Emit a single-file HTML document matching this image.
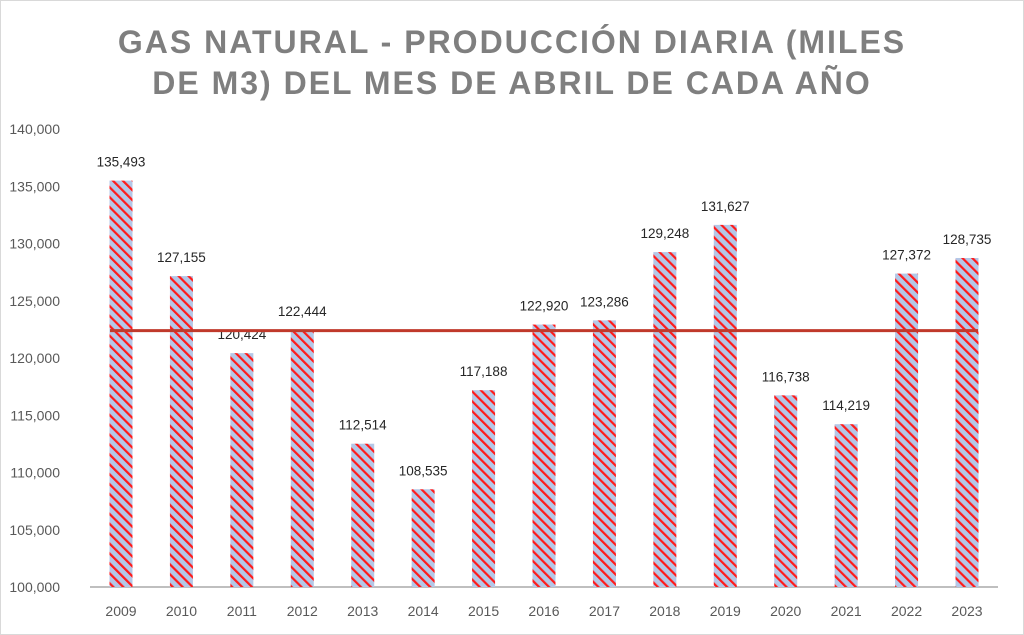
<!DOCTYPE html>
<html><head><meta charset="utf-8"><style>
body{margin:0;background:#fff;}
svg{display:block;font-family:"Liberation Sans",sans-serif;}
</style></head><body>
<svg width="1024" height="635" viewBox="0 0 1024 635">
<defs>
<pattern id="hatch" patternUnits="userSpaceOnUse" width="7" height="7" patternTransform="rotate(-45)">
<rect width="7" height="7" fill="#b4c7e7"/>
<rect x="0" y="0" width="2.2" height="7" fill="#ff1a1a"/>
</pattern>
</defs>
<rect x="0.5" y="0.5" width="1023" height="634" fill="#fff" stroke="#d9d9d9"/>
<text x="512" y="53" text-anchor="middle" font-size="32" font-weight="bold" fill="#7f7f7f" letter-spacing="2">GAS NATURAL - PRODUCCIÓN DIARIA (MILES</text>
<text x="512" y="94" text-anchor="middle" font-size="32" font-weight="bold" fill="#7f7f7f" letter-spacing="2">DE M3) DEL MES DE ABRIL DE CADA AÑO</text>
</svg>
<script>
const categories=["2009","2010","2011","2012","2013","2014","2015","2016","2017","2018","2019","2020","2021","2022","2023"];
const values=[135493,127155,120424,122444,112514,108535,117188,122920,123286,129248,131627,116738,114219,127372,128735];
const yTicks=[100000,105000,110000,115000,120000,125000,130000,135000,140000];
const averageValue=[122390];
const ns="http://www.w3.org/2000/svg";
const svg=document.querySelector("svg");
const y0=587,yTop=129,vMin=100000,vMax=140000;
function yScale(v){return y0-(v-vMin)/(vMax-vMin)*(y0-yTop);}
const xStart=121,step=(967-121)/14;
function xScale(i){return xStart+i*step;}
function mk(t,a,parent){const e=document.createElementNS(ns,t);for(const k in a)e.setAttribute(k,a[k]);(parent||svg).appendChild(e);return e;}
const fmt=v=>v.toLocaleString("en-US");
yTicks.forEach(t=>{
 const e=mk("text",{x:60,y:yScale(t)+5,"text-anchor":"end","font-size":"14",fill:"#595959"});
 e.textContent=fmt(t);
 
 
});
const ax=mk("line",{x1:90,x2:998,y1:y0,y2:y0,stroke:"#bfbfbf","stroke-width":"2"});


const bw=23;
values.forEach((v,i)=>{
 const cx=xScale(i),yt=yScale(v);
 const r=mk("rect",{x:cx-bw/2,y:yt,width:bw,height:y0-yt,fill:"url(#hatch)"});
 
 
 const l=mk("text",{x:cx,y:yt-14,"text-anchor":"middle","font-size":"13.5",fill:"#262626"});
 l.textContent=fmt(v);
 
 
 const c=mk("text",{x:cx,y:616,"text-anchor":"middle","font-size":"14",fill:"#595959"});
 c.textContent=categories[i];
 
 
});
const ay=yScale(averageValue[0]);
const avg=mk("line",{x1:110,x2:978,y1:ay,y2:ay,stroke:"#c0392b","stroke-width":"3"});


</script>
</body></html>
